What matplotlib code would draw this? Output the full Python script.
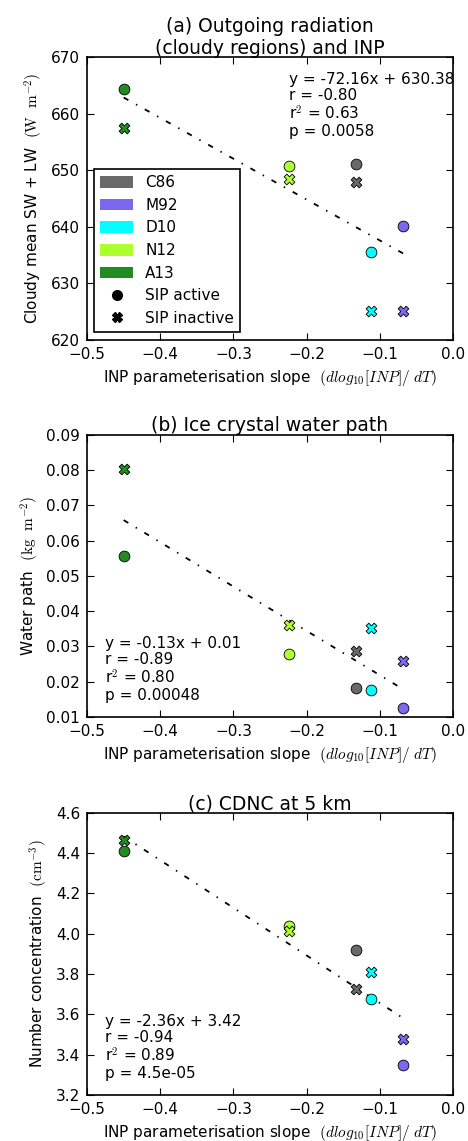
import matplotlib
matplotlib.use("Agg")
import matplotlib.pyplot as plt
from matplotlib.patches import Patch
from matplotlib.lines import Line2D
import numpy as np

plt.rcParams['font.family'] = ['DejaVu Sans']
plt.rcParams['mathtext.fontset'] = 'cm'

# Parameterisations and their INP slopes
schemes = ['C86', 'M92', 'D10', 'N12', 'A13']
colours = ['#696969', '#7B68EE', '#00FFFF', '#ADFF2F', '#228B22']
inp_slope = [-0.132, -0.068, -0.112, -0.224, -0.450]

# (a) cloudy mean outgoing SW + LW (W m-2)
rad_active = [651.1, 640.1, 635.5, 650.7, 664.3]
rad_inactive = [648.0, 625.1, 625.1, 648.4, 657.5]
rad_fit = (-72.16, 630.38)
rad_stats = ('-0.80', '0.63', '0.0058')

# (b) ice crystal water path (kg m-2)
iwp_active = [0.0182, 0.0125, 0.0176, 0.0279, 0.0555]
iwp_inactive = [0.0288, 0.0260, 0.0352, 0.0362, 0.0802]
iwp_fit = (-0.1255, 0.0093)
iwp_stats = ('-0.89', '0.80', '0.00048')

# (c) CDNC at 5 km (cm-3)
cdnc_active = [3.917, 3.350, 3.678, 4.038, 4.408]
cdnc_inactive = [3.727, 3.476, 3.808, 4.012, 4.464]
cdnc_fit = (-2.36, 3.42)
cdnc_stats = ('-0.94', '0.89', '4.5e-05')

xlabel = r'INP parameterisation slope  $(dlog_{10}[INP]/\ dT)$'

fig = plt.figure(figsize=(4.68, 11.41), dpi=100)

panels = [
    dict(rect=[0.186, 0.702, 0.782, 0.248], act=rad_active, inact=rad_inactive,
         fit=rad_fit, stats=rad_stats, ylim=(620, 670), yticks=np.arange(620, 671, 10),
         yfmt='{:.0f}',
         title='(a) Outgoing radiation\n(cloudy regions) and INP',
         ylabel=r'Cloudy mean SW + LW  $(\mathrm{W\ \ m^{-2}})$',
         text_xy=(0.552, 0.947), text_va='top', legend=True),
    dict(rect=[0.186, 0.3716, 0.782, 0.2475], act=iwp_active, inact=iwp_inactive,
         fit=iwp_fit, stats=iwp_stats, ylim=(0.01, 0.09), yticks=np.arange(0.01, 0.0901, 0.01),
         yfmt='{:.2f}',
         title='(b) Ice crystal water path',
         ylabel=r'Water path  $(\mathrm{kg\ \ m^{-2}})$',
         text_xy=(0.049, 0.05), text_va='bottom', legend=False),
    dict(rect=[0.186, 0.0403, 0.782, 0.2475], act=cdnc_active, inact=cdnc_inactive,
         fit=cdnc_fit, stats=cdnc_stats, ylim=(3.2, 4.6), yticks=np.arange(3.2, 4.61, 0.2),
         yfmt='{:.1f}',
         title='(c) CDNC at 5 km',
         ylabel=r'Number concentration  $(\mathrm{cm^{-3}})$',
         text_xy=(0.049, 0.05), text_va='bottom', legend=False),
]

for p in panels:
    ax = fig.add_axes(p['rect'])
    slope, icpt = p['fit']
    xs = np.array([min(inp_slope), max(inp_slope)])
    ax.plot(xs, slope * xs + icpt, color='black', lw=1.3,
            dashes=(3.0, 4.8, 0.8, 4.8), zorder=2)
    for x, ya, yi, c in zip(inp_slope, p['act'], p['inact'], colours):
        ax.scatter([x], [ya], s=60, marker='o', c=c, edgecolors='black',
                   linewidths=0.6, zorder=3)
        ax.scatter([x], [yi], s=60, marker='X', c=c, edgecolors='black',
                   linewidths=0.6, zorder=3)
    ax.set_xlim(-0.5, 0.0)
    ax.set_ylim(*p['ylim'])
    ax.set_xticks(np.arange(-0.5, 0.01, 0.1))
    ax.set_xticklabels(['\u22120.5', '\u22120.4', '\u22120.3', '\u22120.2', '\u22120.1', '0.0'])
    ax.set_yticks(p['yticks'])
    ax.set_yticklabels([p['yfmt'].format(v) for v in p['yticks']])
    ax.tick_params(direction='in', top=True, right=True, length=5, width=0.8,
                   labelsize=11, pad=5)
    for sp in ax.spines.values():
        sp.set_linewidth(1.2)
    ax.set_title(p['title'], fontsize=13.5, pad=2.5, linespacing=1.15)
    ax.set_ylabel(p['ylabel'], fontsize=11)
    ax.set_xlabel(xlabel, fontsize=11, labelpad=4)

    sign = '-' if slope < 0 else ''
    eq = 'y = {}{:.2f}x + {:.2f}'.format(sign, abs(slope), icpt)
    r, r2, pv = p['stats']
    txt = '{}\nr = {}\nr$^2$ = {}\np = {}'.format(eq, r, r2, pv)
    ax.text(*p['text_xy'], txt, transform=ax.transAxes, fontsize=11,
            va=p['text_va'], ha='left', linespacing=1.1)

    if p['legend']:
        handles = [Patch(facecolor=c, edgecolor='none', label=n)
                   for n, c in zip(schemes, colours)]
        handles.append(Line2D([], [], ls='none', marker='o', color='black',
                              markersize=7, label='SIP active'))
        handles.append(Line2D([], [], ls='none', marker='X', color='black',
                              markersize=7, label='SIP inactive'))
        leg = ax.legend(handles=handles, loc='lower left',
                        bbox_to_anchor=(0.019, 0.028), borderaxespad=0,
                        fontsize=11, fancybox=False, framealpha=1,
                        edgecolor='black', handlelength=2.15, handleheight=0.8,
                        labelspacing=0.5, borderpad=0.4, handletextpad=0.8)
        leg.get_frame().set_linewidth(1.2)

fig.savefig('out.png', dpi=100)
